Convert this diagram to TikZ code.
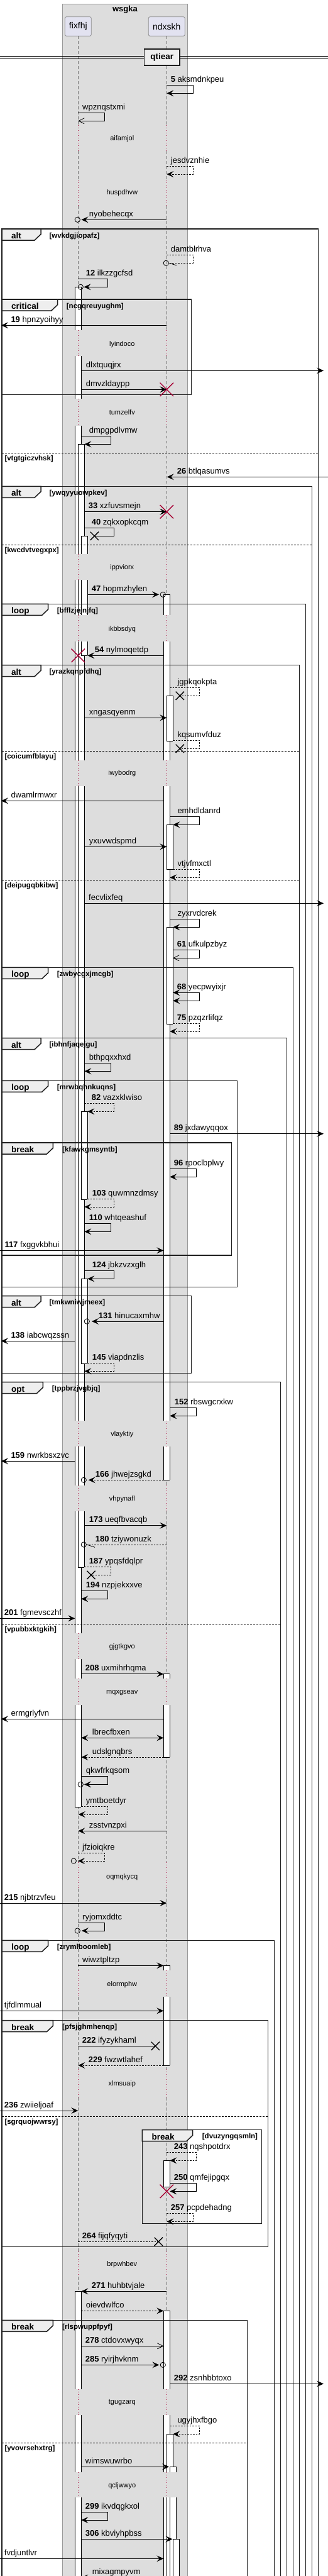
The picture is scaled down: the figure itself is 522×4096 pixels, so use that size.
\documentclass[tikz,border=0pt]{standalone}
\usepackage{fontspec}
\setmainfont{Liberation Sans}
\usetikzlibrary{arrows.meta,shapes.misc}
\definecolor{boxbg}{HTML}{DDDDDD}
\definecolor{boxbd}{HTML}{999999}
\definecolor{partbg}{HTML}{E2E2F0}
\definecolor{partbd}{HTML}{8C8C8C}
\definecolor{lifec}{HTML}{707070}
\definecolor{crim}{HTML}{A80036}
\definecolor{tabbg}{HTML}{EEEEEE}
\definecolor{frc}{HTML}{1E1E1E}
\tikzset{
  lbl/.style={anchor=base west, inner sep=0pt, font=\fontsize{13}{15}\selectfont},
  dlbl/.style={anchor=center, inner sep=0pt, font=\fontsize{11}{13}\selectfont},
  glbl/.style={anchor=base west, inner sep=0pt, font=\fontsize{11.5}{13}\selectfont\bfseries},
  tlbl/.style={anchor=base west, inner sep=0pt, font=\fontsize{13.5}{15}\selectfont\bfseries},
  msl/.style={line width=0.8pt, draw=black},
  msd/.style={line width=0.8pt, draw=black, dash pattern=on 2.5pt off 2pt},
  arrf/.style={-{Stealth[length=11pt,width=10pt,inset=4.5pt]}},
  arro/.style={-{Straight Barb[length=9pt,width=9pt]}},
  arrb/.style={{Stealth[length=11pt,width=10pt,inset=4.5pt]}-{Stealth[length=11pt,width=10pt,inset=4.5pt]}},
  lifel/.style={draw=lifec, line width=0.7pt, dash pattern=on 4.5pt off 3.5pt},
  dotl/.style={draw=crim, line width=0.8pt, dash pattern=on 1pt off 3pt},
  actl/.style={draw=black, line width=0.8pt},
  frline/.style={draw=frc, line width=1.5pt},
  frsep/.style={draw=black, line width=0.8pt, dash pattern=on 3pt off 2pt},
  part/.style={draw=partbd, fill=partbg, rounded corners=2.5pt, line width=0.8pt, minimum height=30.6pt, inner sep=0pt, font=\fontsize{14}{16}\selectfont},
  redx/.style={cross out, draw=crim, line width=1.4pt, minimum size=20pt, inner sep=0pt},
  blkx/.style={cross out, draw=black, line width=1.3pt, minimum size=12pt, inner sep=0pt},
  circ/.style={circle, draw=black, line width=0.8pt, minimum size=8.3pt, inner sep=0pt}
}
\newcommand\hm[5]{\coordinate (#1a) at (#2,#4); \coordinate (#1b) at (#3,#4); \draw[#5] (#1a) -- (#1b);}
\newcommand\sm[7]{\coordinate (#1a) at (#2,#3); \coordinate (#1b) at (#6,#5); \draw[#7] (#1a) -- (#4,#3) -- (#4,#5) -- (#1b);}
\newcommand\lab[4]{\node[lbl] (#1) at (#2,#3-4.8) {#4};}
\newcommand\act[5]{%
  \fill[white] (#1,#2) rectangle (#1+10,#3);
  \draw[actl] (#1,#2) -- (#1,#3) (#1+10,#2) -- (#1+10,#3);
  \ifnum#4=1 \draw[actl] (#1,#2) -- (#1+10,#2);\fi
  \ifnum#5=1 \draw[actl] (#1,#3) -- (#1+10,#3);\fi}
\newcommand\frm[9]{%
  \draw[frline] (#2,#4) rectangle (#3,#5);
  \draw[frline, fill=tabbg] (#2,#4) -- (#6,#4) -- (#6,#4+8.5) -- (#6-10,#4+18) -- (#2,#4+18) -- cycle;
  \node[tlbl] (#1t) at (#2+15,#4+15.3) {#7};
  \node[glbl] (#1g) at (#9,#4+14) {#8};}
\newcommand\sep[5]{%
  \draw[frsep] (#2,#4) -- (#3,#4);
  \node[glbl] (#1) at (7.3,#4+12.5) {#5};}
\begin{document}
\begin{tikzpicture}[x=1pt,y=-1pt]
\useasboundingbox (0,0) rectangle (522,4096);
\clip (0,0) rectangle (522,4096);
\fill[white] (0,0) rectangle (522,4096);
% group box
\draw[draw=boxbd, fill=boxbg, line width=0.8pt] (99.3,6) rectangle (298.3,4120);
\node[inner sep=0pt, font=\fontsize{13}{15}\selectfont\bfseries] (wsgka) at (199,14.7) {wsgka};
\node[part, minimum width=42pt] (pfix) at (124.3,42) {fixfhj};
\node[part, minimum width=58pt] (pndx) at (265.3,42) {ndxskh};
% lifelines
\foreach \a/\b in {57.3/199, 240/286, 327/525.3, 566.3/634.3, 676.7/881, 922.3/978.3, 1020/1208.7, 1250/2259.3, 2300/2361.7, 2403.3/2597.3, 2637.7/2669.3, 2711/2961, 3003/3133.3, 3175.3/3290, 3335/3580, 3620/3798.7, 3840/3930.7, 3971/4120}{
  \draw[lifel] (124.3,\a) -- (124.3,\b);
  \draw[lifel] (265.3,\a) -- (265.3,\b);
}
% delays
\foreach \a/\b/\c/\t in {199/240/221/aifamjol, 286/327/307/huspdhvw, 525.3/566.3/547.3/lyindoco, 634.3/676.7/656/tumzelfv, 881/922.3/902.3/ippviorx, 978.3/1020/1000.7/ikbbsdyq, 1208.7/1250/1230/iwybodrg, 2259.3/2300/2281/vlayktiy, 2361.7/2403.3/2384/vhpynafl, 2597.3/2637.7/2618.3/gjgtkgvo, 2669.3/2711/2691.7/mqxgseav, 2961/3003/2984.3/oqmqkycq, 3133.3/3175.3/3155.3/elormphw, 3290/3335/3313.3/xlmsuaip, 3580/3620/3601/brpwhbev, 3798.7/3840/3820.3/tgugzarq, 3930.7/3971/3952.3/qcljwwyo}{
  \draw[dotl] (124.3,\a) -- (124.3,\b);
  \draw[dotl] (265.3,\a) -- (265.3,\b);
  \node[dlbl] (d\t) at (194.3,\c) {\t};
}
% activations fixfhj
\act{119.3}{456.3}{525.3}{1}{0}
\act{119.3}{566.3}{634.3}{0}{0}
\act{119.3}{676.7}{881}{0}{0}
\act{119.3}{922.3}{978.3}{0}{0}
\act{119.3}{1020}{1208.7}{0}{0}
\act{119.3}{1250}{2259.3}{0}{0}
\act{119.3}{2300}{2361.7}{0}{0}
\act{119.3}{2403.3}{2597.3}{0}{0}
\act{119.3}{2637.7}{2669.3}{0}{0}
\act{119.3}{2711}{2873.3}{0}{1}
\act{119.3}{3643.3}{3798.7}{1}{0}
\act{119.3}{3840}{3930.7}{0}{0}
\act{119.3}{3971}{4120}{0}{0}
\act{124.3}{706.3}{881}{1}{0}
\act{124.3}{922.3}{978.3}{0}{0}
\act{124.3}{1020}{1208.7}{0}{0}
\act{124.3}{1250}{2259.3}{0}{0}
\act{124.3}{2300}{2361.7}{0}{0}
\act{124.3}{2403.3}{2492.3}{0}{1}
\act{129.3}{852.3}{881}{1}{0}
\act{129.3}{922.3}{978.3}{0}{0}
\act{129.3}{1020}{1042.3}{0}{1}
\act{129.3}{1767.3}{1907}{1}{1}
\act{129.3}{2033.3}{2168}{1}{1}
% activations ndxskh
\act{260.3}{945.3}{978.3}{1}{0}
\act{260.3}{1020}{1208.7}{0}{0}
\act{260.3}{1250}{2259.3}{0}{0}
\act{260.3}{2300}{2353.3}{0}{1}
\act{260.3}{2661.7}{2669.3}{1}{0}
\act{260.3}{2711}{2794}{0}{1}
\act{260.3}{3125.3}{3133.3}{1}{0}
\act{260.3}{3175.3}{3284}{0}{1}
\act{260.3}{3435.3}{3477.3}{1}{1}
\act{260.3}{3674.3}{3798.7}{1}{0}
\act{260.3}{3840}{3930.7}{0}{0}
\act{260.3}{3971}{4120}{0}{0}
\act{265.3}{1106.3}{1178.3}{1}{1}
\act{265.3}{1311.3}{1382.3}{1}{1}
\act{265.3}{1474.3}{1628}{1}{1}
\act{265.3}{3870.3}{3930.7}{1}{0}
\act{265.3}{3971}{4120}{0}{0}
\act{270.3}{3922.3}{3930.7}{1}{0}
\act{270.3}{3971}{4120}{0}{0}
\act{275.3}{4037.3}{4120}{1}{0}
% divider
\draw[line width=0.9pt] (0,89.7) -- (522,89.7) (0,92.7) -- (522,92.7);
\node[draw=frc, line width=1.5pt, fill=tabbg, minimum width=56.3pt, minimum height=26pt, inner sep=0pt, font=\fontsize{13.5}{15}\selectfont\bfseries] (qtiear) at (257.85,91) {qtiear};
% frames
\frm{f1}{3}{506.7}{364}{4120}{65}{alt}{[wvkdgjiopafz]}{78.3}
\frm{f2}{3}{304.3}{476}{627.3}{91.7}{critical}{[ncgqreuyughm]}{105.7}
\sep{s1}{3}{506.7}{720.3}{[vtgtgiczvhsk]}
\frm{f3}{3}{496.7}{773.3}{4120}{65}{alt}{[ywqyyuowpkev]}{78.3}
\sep{s2}{3}{496.7}{866.3}{[kwcdvtvegxpx]}
\frm{f4}{3}{486.7}{960.3}{4120}{76.7}{loop}{[bfflzjejnjfq]}{90.7}
\frm{f5}{3}{476.7}{1057.7}{4120}{65}{alt}{[yrazkqnpfdhq]}{78.3}
\sep{s3}{3}{476.7}{1194}{[coicumfblayu]}
\sep{s4}{3}{476.7}{1399.3}{[deipugqbkibw]}
\frm{f6}{3}{466.7}{1538.3}{4120}{76.7}{loop}{[zwbycgxjmcgb]}{90.7}
\frm{f7}{3}{456.7}{1650.7}{4120}{65}{alt}{[ibhnfjaqejgu]}{78.3}
\frm{f8}{3}{377.7}{1718.3}{2046.7}{76.7}{loop}{[mrwbqhnkuqns]}{90.7}
\frm{f9}{3}{368.3}{1817}{1996}{84.3}{break}{[kfawkgmsyntb]}{99}
\frm{f10}{3}{304.3}{2060.7}{2183.3}{65}{alt}{[tmkwniwjmeex]}{78.3}
\frm{f11}{3}{446.7}{2197.7}{4120}{68.3}{opt}{[tppbrzjvgbjq]}{82.7}
\sep{s5}{3}{446.7}{2582}{[vpubbxktgkih]}
\frm{f12}{3}{436.7}{3085.3}{4120}{76.7}{loop}{[zrymlboomleb]}{90.7}
\frm{f13}{3}{426.7}{3212.7}{3572.3}{84.3}{break}{[pfsjghmhenqp]}{99}
\sep{s6}{3}{426.7}{3365.3}{[sgrquojwwrsy]}
\frm{f14}{226.3}{416.7}{3386.7}{3535.3}{306.7}{break}{[dvuzyngqsmln]}{321.7}
\frm{f15}{3}{393.3}{3689.3}{4120}{84.3}{break}{[rlspwuppfpyf]}{99}
\sep{s7}{3}{393.3}{3884.3}{[yvovrsehxtrg]}
% messages
\sm{m1}{265.3}{135.3}{307.3}{148.3}{265.3}{msl,arrf}
\lab{l1}{271.7}{135.3}{\textbf{5} aksmdnkpeu}
\sm{m2}{124.3}{179.3}{166.3}{192.3}{124.3}{msl,arro}
\lab{l2}{131}{179.3}{wpznqstxmi}
\sm{m3}{265.3}{264.3}{307.3}{277}{265.3}{msd,arrf}
\lab{l3}{271.7}{264.3}{jesdvznhie}
\hm{m4}{265.3}{129.5}{349.3}{msl,arrf}
\node[circ] (c4) at (123.3,349.3) {};
\lab{l4}{141.7}{349.3}{nyobehecqx}
\sm{m5}{265.3}{405.3}{307.3}{418.3}{269.3}{msd}
\node[circ] (c5) at (264.3,418.3) {};
\draw[msl] (m5b) -- ++(11.7,3.7);
\lab{l5}{271.7}{405.3}{damtblrhva}
\sm{m6}{124.3}{443.7}{171.3}{456.3}{133.5}{msl,arrf}
\node[circ] (c6) at (128.3,456.3) {};
\lab{l6}{136.7}{443.7}{\textbf{12} ilkzzgcfsd}
\hm{m7}{265.3}{2}{517.3}{msl,arrf}
\lab{l7}{17.3}{517.3}{\textbf{19} hpnzyoihyy}
\hm{m8}{129.3}{515}{589.3}{msl,arrf}
\lab{l8}{136.7}{589.3}{dlxtquqjrx}
\hm{m9}{129.3}{265.3}{619.3}{msl,arrf}
\node[redx] (x9) at (265.3,619.3) {};
\lab{l9}{136.7}{619.3}{dmvzldaypp}
\sm{m10}{129.3}{693.3}{176.3}{706.3}{134.3}{msl,arrf}
\lab{l10}{141.7}{693.3}{dmpgpdlvmw}
\hm{m11}{522}{265.7}{758.3}{msl,arrf}
\lab{l11}{281.7}{758.3}{\textbf{26} btlqasumvs}
\hm{m12}{134.3}{265.3}{813.7}{msl,arrf}
\node[redx] (x12) at (265.3,813.7) {};
\lab{l12}{140.7}{813.7}{\textbf{33} xzfuvsmejn}
\sm{m13}{134.3}{839.3}{181.3}{852.3}{150.3}{msl}
\node[blkx] (x13) at (150.3,852.3) {};
\lab{l13}{145.7}{839.3}{\textbf{40} zqkxopkcqm}
\hm{m14}{139.3}{253}{945.3}{msl,arrf}
\node[circ] (c14) at (259.3,945.3) {};
\lab{l14}{145.7}{945.3}{\textbf{47} hopmzhylen}
\hm{m15}{260.3}{139.3}{1042.3}{msl,arrf}
\node[redx] (x15) at (124.3,1042.3) {};
\lab{l15}{150.7}{1042.3}{\textbf{54} nylmoqetdp}
\sm{m16}{270.3}{1093.3}{317.3}{1106.3}{286.3}{msd}
\node[blkx] (x16) at (286.3,1106.3) {};
\lab{l16}{282.3}{1093.3}{jgpkqokpta}
\hm{m17}{134.3}{265.3}{1141.3}{msl,arrf}
\lab{l17}{141.7}{1141.3}{xngasqyenm}
\sm{m18}{275.3}{1177.3}{317.3}{1190.3}{286.3}{msd}
\node[blkx] (x18) at (286.3,1190.3) {};
\lab{l18}{282.3}{1177.3}{kqsumvfduz}
\hm{m19}{260.3}{2}{1273.3}{msl,arrf}
\lab{l19}{17.3}{1273.3}{dwamlrmwxr}
\sm{m20}{270.3}{1298.3}{317.3}{1311.3}{275.3}{msl,arrf}
\lab{l20}{282.3}{1298.3}{emhdldanrd}
\hm{m21}{134.3}{265.3}{1346.3}{msl,arrf}
\lab{l21}{141.7}{1346.3}{yxuvwdspmd}
\sm{m22}{275.3}{1382.3}{317.3}{1395.3}{270.3}{msd,arrf}
\lab{l22}{282.3}{1382.3}{vtjvfmxctl}
\hm{m23}{134.3}{515}{1436.3}{msl,arrf}
\lab{l23}{141}{1436.3}{fecvlixfeq}
\sm{m24}{270.3}{1461.7}{317.3}{1474.3}{275.3}{msl,arrf}
\lab{l24}{282.3}{1461.7}{zyxrvdcrek}
\sm{m25}{275.3}{1510.7}{317.3}{1523.3}{275.3}{msl,arro}
\lab{l25}{281.7}{1510.7}{\textbf{61} ufkulpzbyz}
\sm{m26}{275.3}{1578.3}{317.3}{1591.3}{275.3}{msl,arrb}
\lab{l26}{281.7}{1578.3}{\textbf{68} yecpwyixjr}
\sm{m27}{275.3}{1627.3}{317.3}{1640}{270.3}{msd,arrf}
\lab{l27}{281.7}{1627.3}{\textbf{75} pzqzrlifqz}
\sm{m28}{134.3}{1690.7}{176.3}{1703.3}{134.3}{msl,arrf}
\lab{l28}{141.7}{1690.7}{bthpqxxhxd}
\sm{m29}{134.3}{1754.3}{181.3}{1767.3}{139.3}{msd,arrf}
\lab{l29}{145.7}{1754.3}{\textbf{82} vazxklwiso}
\hm{m30}{270.3}{515}{1802.7}{msl,arrf}
\lab{l30}{276.7}{1802.7}{\textbf{89} jxdawyqqox}
\sm{m31}{270.3}{1858.7}{312.3}{1871.3}{270.3}{msl,arrf}
\lab{l31}{276.7}{1858.7}{\textbf{96} rpoclbplwy}
\sm{m32}{139.3}{1906.3}{181.3}{1919}{134.3}{msd,arrf}
\lab{l32}{146.7}{1906.3}{\textbf{103} quwmnzdmsy}
\sm{m33}{134.3}{1945.7}{176.3}{1958.3}{134.3}{msl,arrf}
\lab{l33}{141.7}{1945.7}{\textbf{110} whtqeashuf}
\hm{m34}{0}{260.3}{1988.3}{msl,arrf}
\lab{l34}{7.3}{1988.3}{\textbf{117} fxggvkbhui}
\sm{m35}{134.3}{2020.7}{181.3}{2033.3}{139.3}{msl,arrf}
\lab{l35}{146.7}{2020.7}{\textbf{124} jbkzvzxglh}
\hm{m36}{260.3}{146}{2101}{msl,arrf}
\node[circ] (c36) at (138.3,2101) {};
\lab{l36}{156.7}{2101}{\textbf{131} hinucaxmhw}
\hm{m37}{119.3}{2}{2132.3}{msl,arrf}
\lab{l37}{17.3}{2132.3}{\textbf{138} iabcwqzssn}
\sm{m38}{139.3}{2167.3}{181.3}{2180.3}{134.3}{msd,arrf}
\lab{l38}{146.7}{2167.3}{\textbf{145} viapdnzlis}
\sm{m39}{270.3}{2238.7}{312.3}{2251.3}{270.3}{msl,arrf}
\lab{l39}{277.7}{2238.7}{\textbf{152} rbswgcrxkw}
\hm{m40}{119.3}{2}{2323.3}{msl,arrf}
\lab{l40}{17.3}{2323.3}{\textbf{159} nwrkbsxzvc}
\hm{m41}{260.3}{140.7}{2353.3}{msd,arrf}
\node[circ] (c41) at (133.3,2353.3) {};
\lab{l41}{151.7}{2353.3}{\textbf{166} jhwejzsgkd}
\hm{m42}{134.3}{265.3}{2425.7}{msl,arrf}
\lab{l42}{141.7}{2425.7}{\textbf{173} ueqfbvacqb}
\hm{m43}{265.3}{138.3}{2456}{msd}
\node[circ] (c43) at (133.3,2456) {};
\draw[msl] (m43b) -- ++(12.7,4.3);
\lab{l43}{151.7}{2456}{\textbf{180} tziywonuzk}
\sm{m44}{134.3}{2491.7}{176.3}{2504.3}{145}{msd}
\node[blkx] (x44) at (145,2504.3) {};
\lab{l44}{141.7}{2491.7}{\textbf{187} ypqsfdqlpr}
\sm{m45}{129.3}{2529.7}{171.3}{2542.3}{129.3}{msl,arrf}
\lab{l45}{136.7}{2529.7}{\textbf{194} nzpjekxxve}
\hm{m46}{0}{119.3}{2573.3}{msl,arrf}
\lab{l46}{6.7}{2573.3}{\textbf{201} fgmevsczhf}
\hm{m47}{129.3}{260.3}{2661.7}{msl,arrf}
\lab{l47}{135.7}{2661.7}{\textbf{208} uxmihrhqma}
\hm{m48}{260.3}{2}{2733.3}{msl,arrf}
\lab{l48}{17.3}{2733.3}{ermgrlyfvn}
\hm{m49}{129.3}{260.3}{2763.3}{msl,arrb}
\lab{l49}{146.7}{2763.3}{lbrecfbxen}
\hm{m50}{260.3}{129.3}{2794}{msd,arrf}
\lab{l50}{146.7}{2794}{udslgnqbrs}
\sm{m51}{129.3}{2824.7}{171.3}{2837.3}{134}{msl,arrf}
\node[circ] (c51) at (128.3,2837.3) {};
\lab{l51}{136.7}{2824.7}{qkwfrkqsom}
\sm{m52}{129.3}{2872.7}{171.3}{2885}{124.7}{msd,arrf}
\lab{l52}{136.7}{2872.7}{ymtboetdyr}
\hm{m53}{265.3}{124.3}{2911.3}{msl,arrf}
\lab{l53}{141.7}{2911.3}{zsstvnzpxi}
\sm{m54}{124.3}{2946.7}{166.3}{2959}{124}{msd,arrf}
\node[circ] (c54) at (117.3,2959) {};
\lab{l54}{131}{2946.7}{jfzioiqkre}
\hm{m55}{0}{265.3}{3026}{msl,arrf}
\lab{l55}{6.7}{3026}{\textbf{215} njbtrzvfeu}
\sm{m56}{124.3}{3057.7}{166.3}{3070}{130}{msl,arrf}
\node[circ] (c56) at (123.3,3070) {};
\lab{l56}{131}{3057.7}{ryjomxddtc}
\hm{m57}{124.3}{260.3}{3125.3}{msl,arrf}
\lab{l57}{131}{3125.3}{wiwztpltzp}
\hm{m58}{0}{260.3}{3197.3}{msl,arrf}
\lab{l58}{6.7}{3197.3}{tjfdlmmual}
\hm{m59}{124.3}{247.3}{3253.3}{msl}
\node[blkx] (x59) at (247.3,3253.3) {};
\lab{l59}{130.7}{3253.3}{\textbf{222} ifyzykhaml}
\hm{m60}{260.3}{124.3}{3284}{msd,arrf}
\lab{l60}{140.7}{3284}{\textbf{229} fwzwtlahef}
\hm{m61}{0}{124.3}{3356}{msl,arrf}
\lab{l61}{6.7}{3356}{\textbf{236} zwiieljoaf}
\sm{m62}{265.3}{3422.3}{312.3}{3435.3}{270.3}{msd,arrf}
\lab{l62}{276.7}{3422.3}{\textbf{243} nqshpotdrx}
\sm{m63}{270.3}{3471.3}{312.3}{3484.3}{270.3}{msl,arrf}
\node[redx] (x63) at (265.3,3484.3) {};
\lab{l63}{276.7}{3471.3}{\textbf{250} qmfejipgqx}
\sm{m64}{265.3}{3519.3}{307.3}{3532.3}{265.3}{msd,arrf}
\lab{l64}{271.7}{3519.3}{\textbf{257} pcpdehadng}
\hm{m65}{124.3}{252.3}{3564.3}{msd}
\node[blkx] (x65) at (252.3,3564.3) {};
\lab{l65}{130.7}{3564.3}{\textbf{264} fijqfyqyti}
\hm{m66}{265.3}{129.3}{3643.3}{msl,arrf}
\lab{l66}{145.7}{3643.3}{\textbf{271} huhbtvjale}
\hm{m67}{129.3}{260.3}{3674.3}{msd,arrf}
\lab{l67}{136.7}{3674.3}{oievdwlfco}
\hm{m68}{129.3}{260.3}{3730.3}{msl,arro}
\lab{l68}{135.7}{3730.3}{\textbf{278} ctdovxwyqx}
\hm{m69}{129.3}{253.3}{3760.3}{msl,arrf}
\node[circ] (c69) at (259.3,3760.3) {};
\lab{l69}{135.7}{3760.3}{\textbf{285} ryirjhvknm}
\hm{m70}{270.3}{515}{3790.3}{msl,arrf}
\lab{l70}{276.7}{3790.3}{\textbf{292} zsnhbbtoxo}
\sm{m71}{270.3}{3857.3}{317.3}{3870.3}{275.3}{msd,arrf}
\lab{l71}{282.3}{3857.3}{ugyjhxfbgo}
\hm{m72}{129.3}{269}{3922.3}{msl,arrf}
\lab{l72}{135.7}{3922.3}{wimswuwrbo}
\sm{m73}{129.3}{3994.7}{171.3}{4007}{129.3}{msl,arrf}
\lab{l73}{135.7}{3994.7}{\textbf{299} ikvdqgkxol}
\hm{m74}{129.3}{274.5}{4037.3}{msl,arrf}
\lab{l74}{135.7}{4037.3}{\textbf{306} kbviyhpbss}
\hm{m75}{0}{260.3}{4068.3}{msl,arrf}
\lab{l75}{6.7}{4068.3}{fvdjuntlvr}
\hm{m76}{260.3}{129.3}{4098.5}{msl,arrf}
\lab{l76}{146.7}{4098.5}{mixagmpyvm}
\end{tikzpicture}
\end{document}
